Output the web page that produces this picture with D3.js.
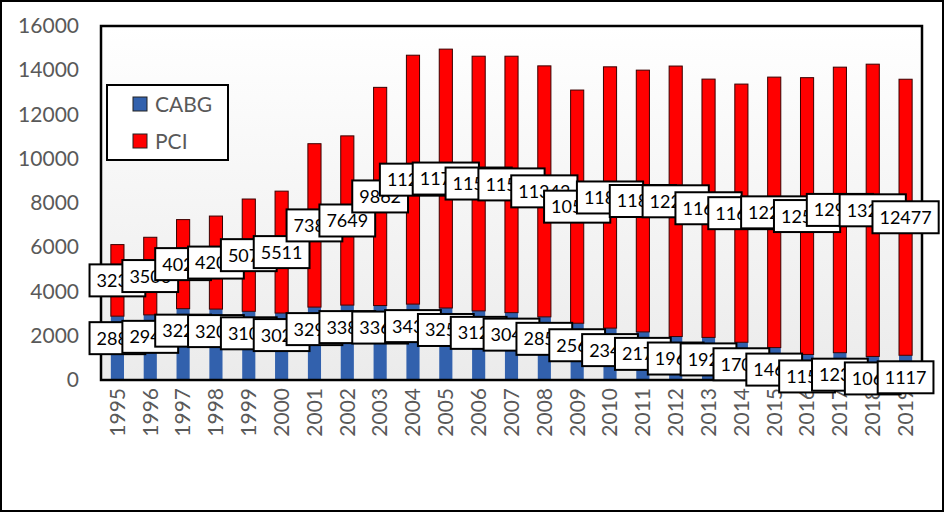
<!DOCTYPE html>
<html>
<head>
<meta charset="utf-8">
<script src="https://cdn.jsdelivr.net/npm/d3@7"></script>
<style>
  body { margin: 0; background: #fff; }
  text { font-family: Lato, "Open Sans", sans-serif; }
</style>
</head>
<body>
<svg id="chart" width="945" height="513"></svg>
<script>
// data
var years = ["1995","1996","1997","1998","1999","2000","2001","2002","2003","2004","2005","2006",
             "2007","2008","2009","2010","2011","2012","2013","2014","2015","2016","2017","2018","2019"];
var cabg = [2885, 2945, 3225, 3205, 3105, 3025, 3295, 3385, 3365, 3430, 3255, 3125,
            3045, 2855, 2565, 2345, 2175, 1965, 1925, 1705, 1465, 1155, 1235, 1065, 1117];
var pci = [3235, 3506, 4025, 4205, 5075, 5511, 7385, 7649, 9862, 11250, 11700, 11510,
           11590, 11343, 10540, 11810, 11830, 12225, 11675, 11670, 12225, 12510, 12905, 13210, 12477];
var yTicks = [0, 2000, 4000, 6000, 8000, 10000, 12000, 14000, 16000];
var seriesNames = ["CABG", "PCI"];
var seriesColors = ["#3261ad", "#ff0000"];

var svg = d3.select("#chart");
var plot = {left: 101, right: 922, top: 26, bottom: 380};

// outer frame
svg.append("rect")
    .attr("x", 1).attr("y", 1).attr("width", 942).attr("height", 510)
    .attr("fill", "#fff").attr("stroke", "#000").attr("stroke-width", 2);

// plot background, white fading to light grey
var grad = svg.append("defs").append("linearGradient")
    .attr("id", "bg").attr("x1", 0).attr("y1", 0).attr("x2", 0).attr("y2", 1);
grad.append("stop").attr("offset", "0%").attr("stop-color", "#ffffff");
grad.append("stop").attr("offset", "100%").attr("stop-color", "#ebebeb");

svg.append("rect")
    .attr("x", plot.left).attr("y", plot.top)
    .attr("width", plot.right - plot.left).attr("height", plot.bottom - plot.top)
    .attr("fill", "url(#bg)");

var x = d3.scaleBand().domain(years).range([plot.left, plot.right])
    .paddingInner(0.6).paddingOuter(0.3);
var y = d3.scaleLinear().domain([0, 16000]).range([plot.bottom, plot.top]);

// y axis labels
var yAxis = d3.axisLeft(y).tickValues(yTicks).tickSize(0).tickPadding(0).tickFormat(d3.format("d"));
var yG = svg.append("g").attr("transform", "translate(79,0)").call(yAxis);
yG.select(".domain").remove();
yG.selectAll("text").attr("font-size", 21).attr("fill", "#595959")
    .style("font-family", "Lato, 'Open Sans', sans-serif");

// x axis labels (rotated)
var xAxis = d3.axisBottom(x).tickSize(0).tickPadding(0);
var xG = svg.append("g").attr("transform", "translate(0," + plot.bottom + ")").call(xAxis);
xG.select(".domain").attr("stroke", "#d9d9d9");
xG.selectAll("text")
    .attr("font-size", 21).attr("fill", "#595959")
    .style("font-family", "Lato, 'Open Sans', sans-serif")
    .attr("text-anchor", "end")
    .attr("transform", "rotate(-90)")
    .attr("x", -8).attr("y", 0).attr("dy", "0.35em");

// stacked bars
var rows = years.map(function (yr, i) { return {year: yr, CABG: cabg[i], PCI: pci[i]}; });
var stacked = d3.stack().keys(seriesNames)(rows);

var bars = svg.append("g");
bars.selectAll("g").data(stacked).join("g")
    .attr("fill", function (d, i) { return seriesColors[i]; })
    .selectAll("rect").data(function (d) { return d; }).join("rect")
    .attr("x", function (d) { return x(d.data.year); })
    .attr("width", x.bandwidth())
    .attr("y", function (d) { return y(d[1]); })
    .attr("height", function (d) { return y(d[0]) - y(d[1]); })
    .attr("stroke", function () { return this.parentNode.__data__.key === "PCI" ? "#3a0000" : "none"; })
    .attr("stroke-width", 1);

// plot frame
svg.append("rect")
    .attr("x", plot.left).attr("y", plot.top)
    .attr("width", plot.right - plot.left).attr("height", plot.bottom - plot.top)
    .attr("fill", "none").attr("stroke", "#000").attr("stroke-width", 2.5);

// data labels: CABG at inside end, PCI centered
var labels = svg.append("g");
function drawLabel(cx, cy, value) {
    var g = labels.append("g");
    var box = g.append("rect").attr("fill", "#fff").attr("stroke", "#000").attr("stroke-width", 2);
    var t = g.append("text")
        .attr("x", cx).attr("y", cy).attr("dy", "0.36em")
        .attr("text-anchor", "middle").attr("font-size", 18).attr("fill", "#000")
        .text(value);
    var w = t.node().getComputedTextLength() + 14;
    box.attr("x", cx - w / 2).attr("y", cy - 16).attr("width", w).attr("height", 32);
}
stacked[0].forEach(function (d) {
    drawLabel(x(d.data.year) + x.bandwidth() / 2, y(d[1]) + 22, d.data.CABG);
});
stacked[1].forEach(function (d) {
    drawLabel(x(d.data.year) + x.bandwidth() / 2, (y(d[0]) + y(d[1])) / 2, d.data.PCI);
});

// legend
var legend = svg.append("g");
legend.append("rect")
    .attr("x", 107).attr("y", 85).attr("width", 121).attr("height", 75)
    .attr("fill", "#fff").attr("stroke", "#000").attr("stroke-width", 2);
seriesNames.forEach(function (name, i) {
    legend.append("rect")
        .attr("x", 133).attr("y", 97 + i * 37).attr("width", 14).attr("height", 14)
        .attr("fill", seriesColors[i]).attr("stroke", "#222").attr("stroke-width", 1);
    legend.append("text")
        .attr("x", 155).attr("y", 104 + i * 37).attr("dy", "0.36em")
        .attr("font-size", 21).attr("fill", "#595959")
        .text(name);
});
</script>
</body>
</html>
